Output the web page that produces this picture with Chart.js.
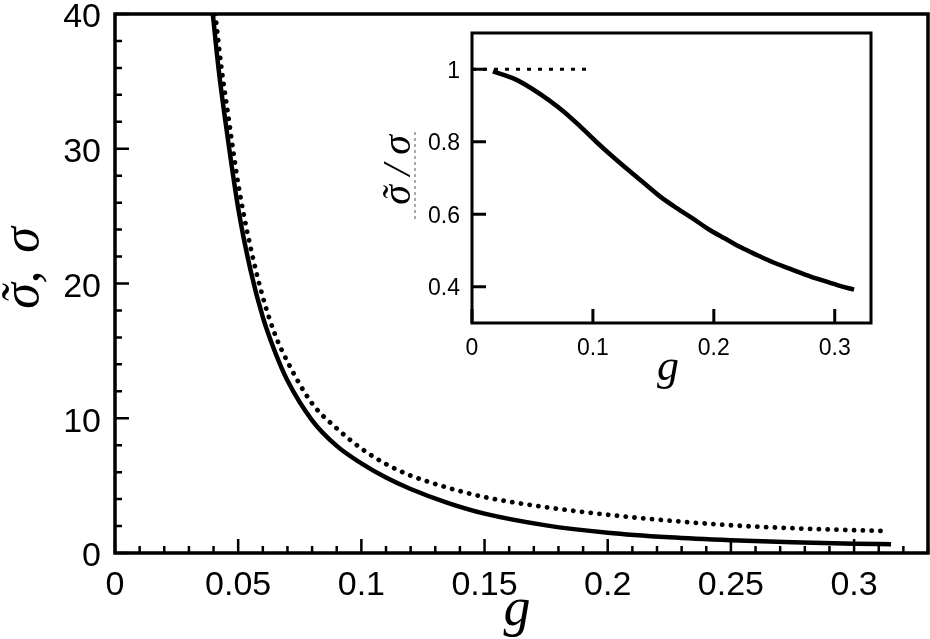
<!DOCTYPE html>
<html>
<head>
<meta charset="utf-8">
<script src="https://cdn.jsdelivr.net/npm/chart.js@4.4.1/dist/chart.umd.min.js"></script>
<style>
  html, body { margin: 0; padding: 0; background: #fff; }
  .wrap { position: relative; width: 930px; height: 639px; }
  .wrap canvas { position: absolute; left: 0; top: 0; }
</style>
</head>
<body>
<div class="wrap">
  <canvas id="mainChart" width="930" height="639"></canvas>
  <canvas id="insetChart" width="930" height="639"></canvas>
</div>
<script>
// main panel, solid curve (sigma tilde)
const gSolid = [0.0397, 0.042, 0.045, 0.05, 0.055, 0.06, 0.065, 0.07, 0.08, 0.09, 0.1, 0.11, 0.12, 0.135, 0.15, 0.175, 0.2, 0.225, 0.25, 0.275, 0.3, 0.315];
const sigmaTilde = [40, 36, 31.8, 25.6, 21.0, 17.5, 14.9, 12.8, 9.85, 7.95, 6.65, 5.6, 4.75, 3.72, 2.92, 2.05, 1.5, 1.16, 0.94, 0.79, 0.69, 0.645];

// main panel, dotted curve (sigma)
const gDotted = [0.0407, 0.043, 0.046, 0.05, 0.055, 0.06, 0.065, 0.07, 0.08, 0.09, 0.1, 0.11, 0.12, 0.135, 0.15, 0.175, 0.2, 0.225, 0.25, 0.275, 0.3, 0.314];
const sigma = [40, 36.3, 32.4, 27.4, 22.7, 19.0, 16.2, 14.2, 11.1, 9.25, 7.75, 6.6, 5.75, 4.85, 4.15, 3.4, 2.84, 2.4, 2.06, 1.84, 1.69, 1.63];

const mainXTicks = [0, 0.05, 0.1, 0.15, 0.2, 0.25, 0.3];
const mainYTicks = [0, 10, 20, 30, 40];

// inset: ratio sigma tilde / sigma
const gRatio = [0.0173, 0.036, 0.0493, 0.0627, 0.076, 0.0893, 0.1027, 0.116, 0.1293, 0.1427, 0.156, 0.1693, 0.1827, 0.196, 0.2093, 0.2227, 0.236, 0.2493, 0.2627, 0.276, 0.2893, 0.3027, 0.316];
const ratio = [0.994, 0.972, 0.947, 0.917, 0.883, 0.843, 0.80, 0.760, 0.722, 0.685, 0.648, 0.617, 0.588, 0.558, 0.533, 0.508, 0.487, 0.467, 0.45, 0.433, 0.418, 0.404, 0.392];
const gUnity = [0, 0.1];
const unity = [1, 1];

const insetXTicks = [0, 0.1, 0.2, 0.3];
const insetYTicks = [0.4, 0.6, 0.8, 1];

const pts = (xs, ys) => xs.map((x, i) => ({ x: x, y: ys[i] }));
const sans = '"Liberation Sans", Arial, Helvetica, sans-serif';
const serif = '"Liberation Serif", "Times New Roman", serif';

// box round the plot + ticks pointing inward
const frameTicks = {
  id: 'frameTicks',
  afterDatasetsDraw(chart, args, opts) {
    const { ctx, chartArea: a, scales: { x, y } } = chart;
    ctx.save();
    ctx.strokeStyle = '#000';
    ctx.lineCap = 'butt';
    const line = (x1, y1, x2, y2) => { ctx.moveTo(x1, y1); ctx.lineTo(x2, y2); };

    ctx.lineWidth = opts.tickWidth;
    ctx.beginPath();
    if (opts.xMinor) {
      for (let i = 0; i * opts.xMinor <= x.max + 1e-9; i++) {
        const px = x.getPixelForValue(i * opts.xMinor);
        line(px, a.bottom, px, a.bottom - opts.minorLen);
      }
    }
    if (opts.yMinor) {
      for (let i = 0; i * opts.yMinor <= y.max + 1e-9; i++) {
        const py = y.getPixelForValue(i * opts.yMinor);
        line(a.left, py, a.left + opts.minorLen, py);
      }
    }
    opts.xMajor.forEach(v => {
      const px = x.getPixelForValue(v);
      line(px, a.bottom, px, a.bottom - opts.majorLen);
    });
    opts.yMajor.forEach(v => {
      const py = y.getPixelForValue(v);
      line(a.left, py, a.left + opts.majorLen, py);
    });
    ctx.stroke();

    ctx.lineWidth = opts.frameWidth;
    ctx.strokeRect(a.left, a.top, a.right - a.left, a.bottom - a.top);
    ctx.restore();
  }
};

// axis titles (math italic); parts are placed along the baseline
const axisText = {
  id: 'axisText',
  afterDraw(chart, args, opts) {
    const ctx = chart.ctx;
    (opts.items || []).forEach(t => {
      ctx.save();
      ctx.translate(t.x, t.y);
      ctx.rotate(t.rot || 0);
      ctx.font = t.font;
      ctx.fillStyle = '#000';
      ctx.textAlign = 'center';
      ctx.textBaseline = 'alphabetic';
      t.parts.forEach(p => ctx.fillText(p[0], p[1], 0));
      ctx.restore();
    });
    if (opts.rule) {
      const r = opts.rule;
      ctx.save();
      ctx.strokeStyle = '#555';
      ctx.lineWidth = 1;
      ctx.setLineDash([3, 3]);
      ctx.beginPath();
      ctx.moveTo(r.x, r.y1);
      ctx.lineTo(r.x, r.y2);
      ctx.stroke();
      ctx.restore();
    }
  }
};

function axis(min, max, tickList, size, padding, fitFn, shift) {
  return {
    type: 'linear',
    min: min,
    max: max,
    afterFit: fitFn,
    afterBuildTicks: s => { s.ticks = tickList.map(v => ({ value: v })); },
    grid: { display: false, drawTicks: false },
    border: { display: false },
    ticks: {
      color: '#000',
      padding: padding,
      labelOffset: shift || 0,
      autoSkip: false,
      maxRotation: 0,
      font: { family: sans, size: size },
      callback: v => String(v)
    }
  };
}

const fixX = h => s => { s.height = h; s.paddingLeft = 0; s.paddingRight = 0; };
const fixY = w => s => { s.width = w; s.paddingTop = 0; s.paddingBottom = 0; };

new Chart(document.getElementById('mainChart'), {
  type: 'line',
  data: {
    datasets: [
      {
        data: pts(gSolid, sigmaTilde),
        borderColor: '#000',
        borderWidth: 4.5,
        pointRadius: 0,
        cubicInterpolationMode: 'monotone',
        fill: false
      },
      {
        data: pts(gDotted, sigma),
        borderColor: '#000',
        borderWidth: 4.8,
        borderDash: [0.1, 8.7],
        borderCapStyle: 'round',
        pointRadius: 0,
        cubicInterpolationMode: 'monotone',
        fill: false
      }
    ]
  },
  options: {
    responsive: false,
    animation: false,
    events: [],
    layout: { padding: { top: 14, right: 2, left: 0, bottom: 0 } },
    scales: {
      x: axis(0, 0.33, mainXTicks, 34, 12, fixX(86)),
      y: axis(0, 40, mainYTicks, 34, 14, fixY(115), 4)
    },
    plugins: {
      legend: { display: false },
      tooltip: { enabled: false },
      frameTicks: { xMajor: mainXTicks, yMajor: mainYTicks, xMinor: 0.01, yMinor: 2, majorLen: 14, minorLen: 7, tickWidth: 2.5, frameWidth: 3.5 },
      axisText: {
        items: [
          { x: 38, y: 267, rot: -Math.PI / 2, font: 'italic 52px ' + serif,
            parts: [['σ', -29], ['˜', -28], [',', -10], ['σ', 27]] },
          { x: 517, y: 625, font: 'italic 54px ' + serif, parts: [['g', 0]] }
        ]
      }
    }
  },
  plugins: [frameTicks, axisText]
});

new Chart(document.getElementById('insetChart'), {
  type: 'line',
  data: {
    datasets: [
      {
        data: pts(gRatio, ratio),
        borderColor: '#000',
        borderWidth: 4.5,
        pointRadius: 0,
        cubicInterpolationMode: 'monotone',
        fill: false
      },
      {
        data: pts(gUnity, unity),
        borderColor: '#000',
        borderWidth: 3,
        borderDash: [4, 7],
        borderCapStyle: 'butt',
        pointRadius: 0,
        fill: false
      }
    ]
  },
  options: {
    responsive: false,
    animation: false,
    events: [],
    layout: { padding: { top: 33, right: 59, left: 0, bottom: 0 } },
    scales: {
      x: axis(0, 0.33, insetXTicks, 23, 12, fixX(316)),
      y: axis(0.3, 1.1, insetYTicks, 23, 12, fixY(472), 2)
    },
    plugins: {
      legend: { display: false },
      tooltip: { enabled: false },
      frameTicks: { xMajor: insetXTicks, yMajor: insetYTicks, majorLen: 14, tickWidth: 3, frameWidth: 3 },
      axisText: {
        items: [
          { x: 410, y: 170, rot: -Math.PI / 2, font: 'italic 40px ' + serif,
            parts: [['σ', -25], ['˜', -24], ['/', 0], ['σ', 25]] },
          { x: 668, y: 380, font: 'italic 44px ' + serif, parts: [['g', 0]] }
        ],
        rule: { x: 415, y1: 132, y2: 220 }
      }
    }
  },
  plugins: [frameTicks, axisText]
});
</script>
</body>
</html>
